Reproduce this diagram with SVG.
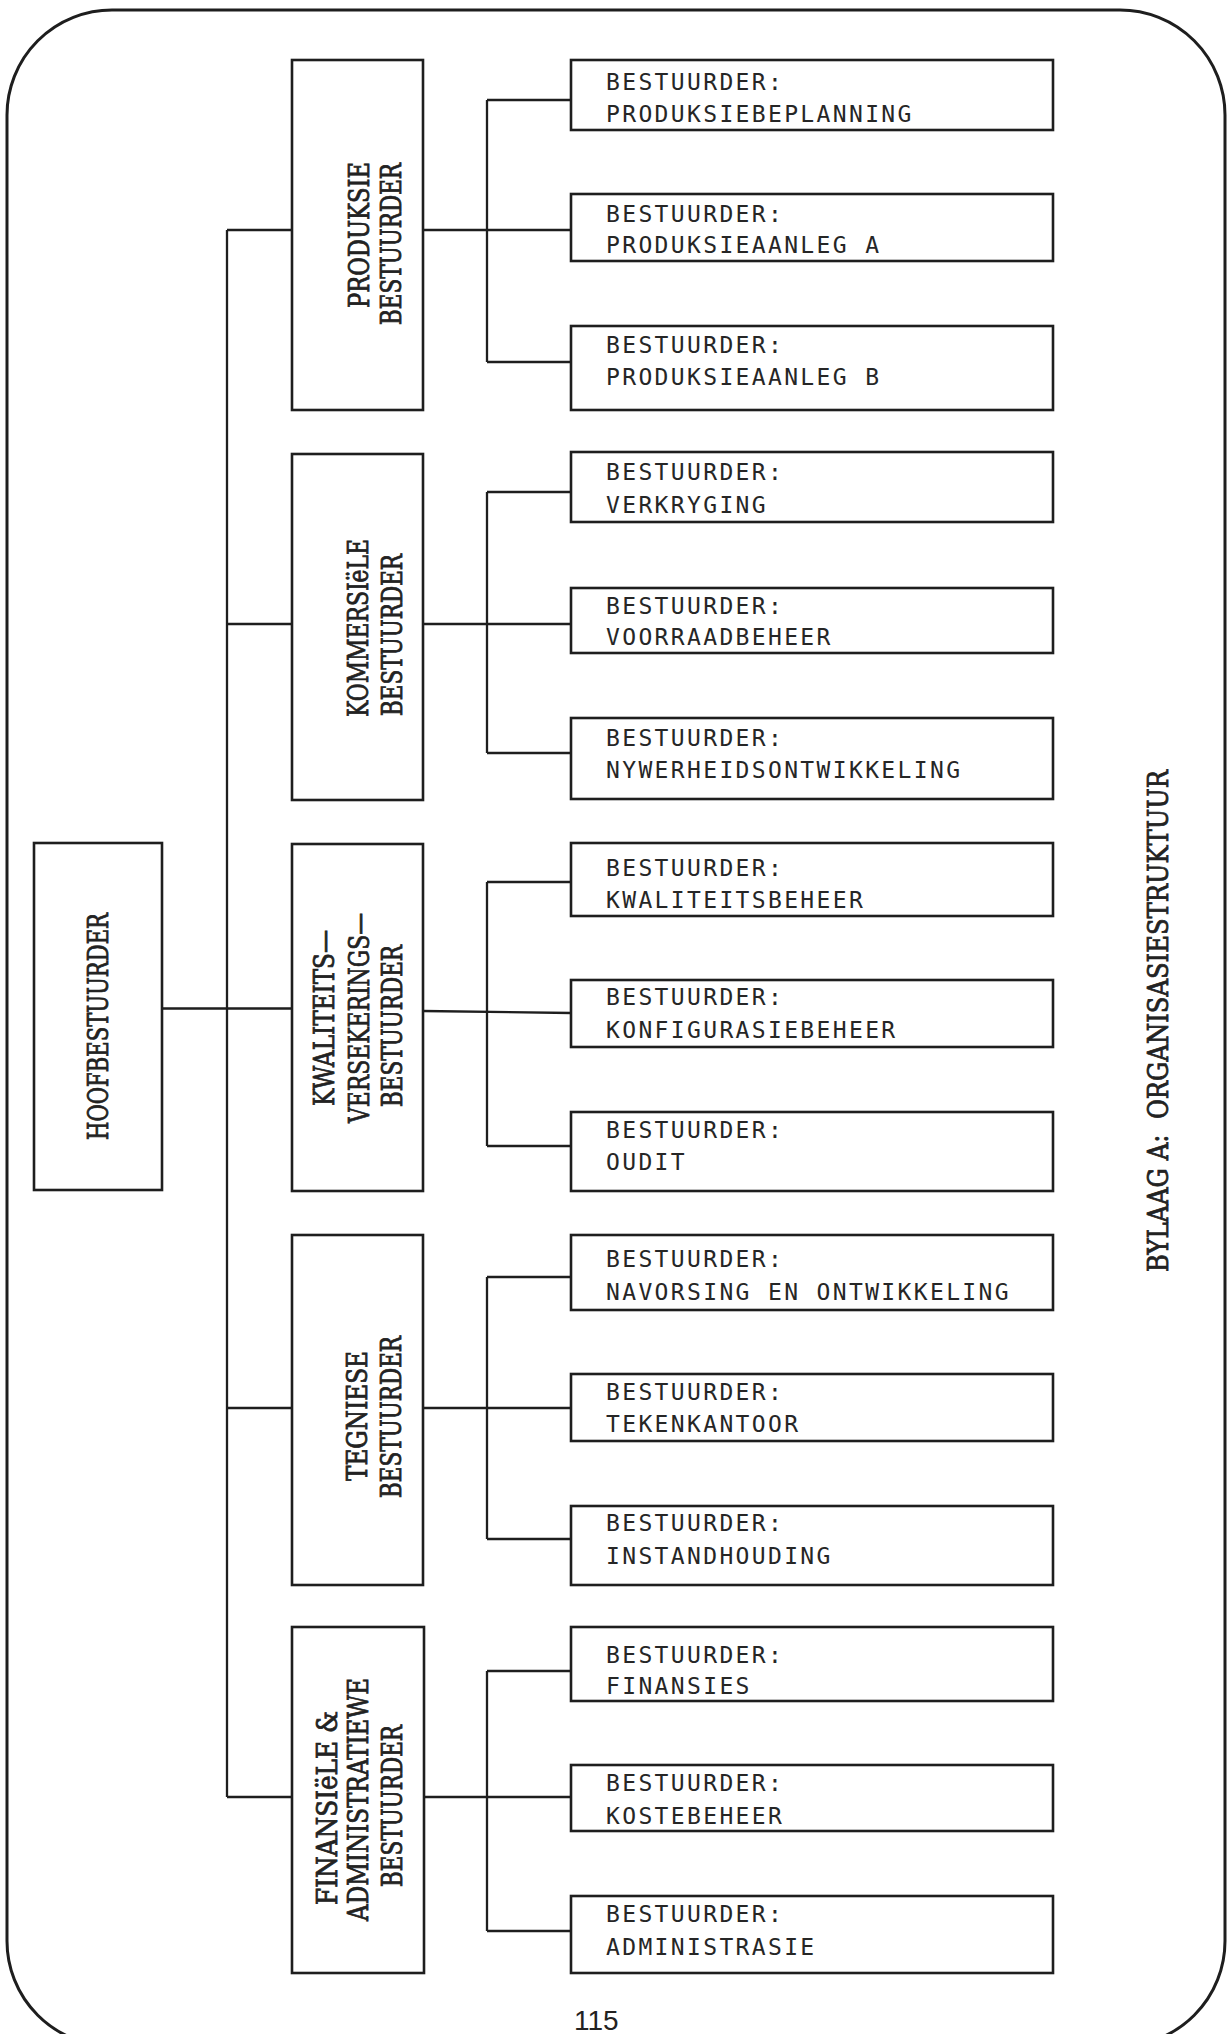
<svg xmlns="http://www.w3.org/2000/svg" width="1228" height="2034" viewBox="0 0 1228 2034">
<style>
.frame{fill:none;stroke:#1e1e1e;stroke-width:3}
.box{fill:#fff;stroke:#1e1e1e;stroke-width:2.6}
.ln{fill:none;stroke:#1e1e1e;stroke-width:2.3}
.c{font-family:'DejaVu Sans Mono','Liberation Mono',monospace;font-size:23px;letter-spacing:2.35px;fill:#262626;white-space:pre}
.v{font-family:'DejaVu Serif','Liberation Serif',serif;font-size:27px;fill:#222;stroke:#222;stroke-width:0.8;white-space:pre}
.pg{font-family:'Liberation Sans',Arial,sans-serif;font-size:28px;fill:#222}
</style>
<rect width="1228" height="2034" fill="#fff"/>
<rect class="frame" x="7" y="10" width="1218" height="2036" rx="105" ry="105"/>

<g id="connectors">
  <path class="ln" d="M227 230 V1797"/>
  <path class="ln" d="M227 230 H292 M227 624 H292 M161 1008.5 H292 M227 1408 H292 M227 1797 H292"/>
  <path class="ln" d="M423 230 H571 M487 100 V362 M487 100 H571 M487 362 H571"/>
  <path class="ln" d="M423 624 H571 M487 492 V753 M487 492 H571 M487 753 H571"/>
  <path class="ln" d="M423 1011 L571 1013 M487 882 V1146 M487 882 H571 M487 1146 H571"/>
  <path class="ln" d="M423 1408 H571 M487 1277 V1539 M487 1277 H571 M487 1539 H571"/>
  <path class="ln" d="M423 1797 H571 M487 1671 V1931 M487 1671 H571 M487 1931 H571"/>
</g>

<g id="hoofbestuurder">
  <rect class="box" x="34" y="843" width="128" height="347"/>
  <text class="v" x="108" y="1140" transform="rotate(-90 108 1140)" textLength="227" lengthAdjust="spacingAndGlyphs">HOOFBESTUURDER</text>
</g>

<g id="produksie-bestuurder">
  <rect class="box" x="292" y="60" width="131" height="350"/>
  <text class="v" x="369" y="308" transform="rotate(-90 369 308)" textLength="146" lengthAdjust="spacingAndGlyphs">PRODUKSIE</text>
  <text class="v" x="401" y="325" transform="rotate(-90 401 325)" textLength="162" lengthAdjust="spacingAndGlyphs">BESTUURDER</text>
</g>

<g id="kommersiele-bestuurder">
  <rect class="box" x="292" y="454" width="131" height="346"/>
  <text class="v" x="368" y="717" transform="rotate(-90 368 717)" textLength="178" lengthAdjust="spacingAndGlyphs">KOMMERSIëLE</text>
  <text class="v" x="402" y="716" transform="rotate(-90 402 716)" textLength="162" lengthAdjust="spacingAndGlyphs">BESTUURDER</text>
</g>

<g id="kwaliteitsversekerings-bestuurder">
  <rect class="box" x="292" y="844" width="131" height="347"/>
  <text class="v" x="334" y="1106" transform="rotate(-90 334 1106)" textLength="176" lengthAdjust="spacingAndGlyphs">KWALITEITS—</text>
  <text class="v" x="369" y="1123" transform="rotate(-90 369 1123)" textLength="210" lengthAdjust="spacingAndGlyphs">VERSEKERINGS—</text>
  <text class="v" x="402" y="1107" transform="rotate(-90 402 1107)" textLength="162" lengthAdjust="spacingAndGlyphs">BESTUURDER</text>
</g>

<g id="tegniese-bestuurder">
  <rect class="box" x="292" y="1235" width="131" height="350"/>
  <text class="v" x="367" y="1481" transform="rotate(-90 367 1481)" textLength="130" lengthAdjust="spacingAndGlyphs">TEGNIESE</text>
  <text class="v" x="401" y="1498" transform="rotate(-90 401 1498)" textLength="162" lengthAdjust="spacingAndGlyphs">BESTUURDER</text>
</g>

<g id="finansiele-bestuurder">
  <rect class="box" x="292" y="1627" width="132" height="346"/>
  <text class="v" x="337" y="1905" transform="rotate(-90 337 1905)" textLength="194" lengthAdjust="spacingAndGlyphs">FINANSIëLE &amp;</text>
  <text class="v" x="368" y="1921" transform="rotate(-90 368 1921)" textLength="243" lengthAdjust="spacingAndGlyphs">ADMINISTRATIEWE</text>
  <text class="v" x="402" y="1887" transform="rotate(-90 402 1887)" textLength="162" lengthAdjust="spacingAndGlyphs">BESTUURDER</text>
</g>

<g id="b-produksiebeplanning">
  <rect class="box" x="571" y="60" width="482" height="70"/>
  <text class="c" x="606" y="90">BESTUURDER:</text>
  <text class="c" x="606" y="122">PRODUKSIEBEPLANNING</text>
</g>
<g id="b-produksieaanleg-a">
  <rect class="box" x="571" y="194" width="482" height="67"/>
  <text class="c" x="606" y="222">BESTUURDER:</text>
  <text class="c" x="606" y="253">PRODUKSIEAANLEG A</text>
</g>
<g id="b-produksieaanleg-b">
  <rect class="box" x="571" y="326" width="482" height="84"/>
  <text class="c" x="606" y="353">BESTUURDER:</text>
  <text class="c" x="606" y="385">PRODUKSIEAANLEG B</text>
</g>
<g id="b-verkryging">
  <rect class="box" x="571" y="452" width="482" height="70"/>
  <text class="c" x="606" y="480">BESTUURDER:</text>
  <text class="c" x="606" y="513">VERKRYGING</text>
</g>
<g id="b-voorraadbeheer">
  <rect class="box" x="571" y="588" width="482" height="65"/>
  <text class="c" x="606" y="614">BESTUURDER:</text>
  <text class="c" x="606" y="645">VOORRAADBEHEER</text>
</g>
<g id="b-nywerheidsontwikkeling">
  <rect class="box" x="571" y="718" width="482" height="81"/>
  <text class="c" x="606" y="746">BESTUURDER:</text>
  <text class="c" x="606" y="778">NYWERHEIDSONTWIKKELING</text>
</g>
<g id="b-kwaliteitsbeheer">
  <rect class="box" x="571" y="843" width="482" height="73"/>
  <text class="c" x="606" y="876">BESTUURDER:</text>
  <text class="c" x="606" y="908">KWALITEITSBEHEER</text>
</g>
<g id="b-konfigurasiebeheer">
  <rect class="box" x="571" y="980" width="482" height="67"/>
  <text class="c" x="606" y="1005">BESTUURDER:</text>
  <text class="c" x="606" y="1038">KONFIGURASIEBEHEER</text>
</g>
<g id="b-oudit">
  <rect class="box" x="571" y="1112" width="482" height="79"/>
  <text class="c" x="606" y="1138">BESTUURDER:</text>
  <text class="c" x="606" y="1170">OUDIT</text>
</g>
<g id="b-navorsing">
  <rect class="box" x="571" y="1235" width="482" height="75"/>
  <text class="c" x="606" y="1267">BESTUURDER:</text>
  <text class="c" x="606" y="1300">NAVORSING EN ONTWIKKELING</text>
</g>
<g id="b-tekenkantoor">
  <rect class="box" x="571" y="1374" width="482" height="67"/>
  <text class="c" x="606" y="1400">BESTUURDER:</text>
  <text class="c" x="606" y="1432">TEKENKANTOOR</text>
</g>
<g id="b-instandhouding">
  <rect class="box" x="571" y="1506" width="482" height="79"/>
  <text class="c" x="606" y="1531">BESTUURDER:</text>
  <text class="c" x="606" y="1564">INSTANDHOUDING</text>
</g>
<g id="b-finansies">
  <rect class="box" x="571" y="1627" width="482" height="74"/>
  <text class="c" x="606" y="1663">BESTUURDER:</text>
  <text class="c" x="606" y="1694">FINANSIES</text>
</g>
<g id="b-kostebeheer">
  <rect class="box" x="571" y="1765" width="482" height="66"/>
  <text class="c" x="606" y="1791">BESTUURDER:</text>
  <text class="c" x="606" y="1824">KOSTEBEHEER</text>
</g>
<g id="b-administrasie">
  <rect class="box" x="571" y="1896" width="482" height="77"/>
  <text class="c" x="606" y="1922">BESTUURDER:</text>
  <text class="c" x="606" y="1955">ADMINISTRASIE</text>
</g>

<text class="v" x="1168" y="1272" transform="rotate(-90 1168 1272)" textLength="502" lengthAdjust="spacingAndGlyphs">BYLAAG A:  ORGANISASIESTRUKTUUR</text>
<text class="pg" x="574" y="2030">115</text>
</svg>
